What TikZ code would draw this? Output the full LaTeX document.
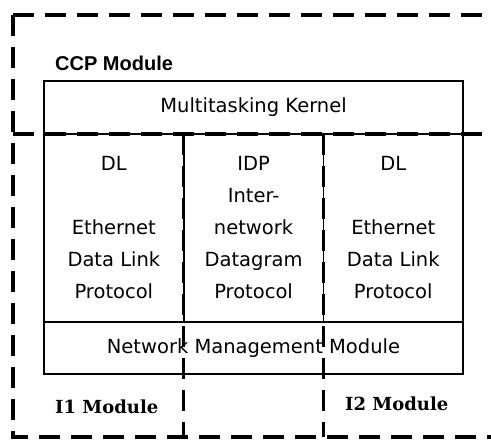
\documentclass[tikz,border=0pt]{standalone}
\usepackage{fontspec}
\setmainfont{DejaVu Sans}
\newfontfamily\titlefont{Liberation Sans}
\newfontfamily\slabfont{DejaVu Serif}
\usetikzlibrary{positioning}

\begin{document}
\begin{tikzpicture}[
    x=1pt, y=-1pt,
    font=\fontsize{19.5}{32}\selectfont,
    box/.style={rectangle, draw, line width=1.8pt, outer sep=0pt, inner sep=0pt, align=center},
    column/.style={box, minimum width=139.7pt, minimum height=188pt},
    region/.style={draw, line width=3.2pt, dash pattern=on 21pt off 11pt},
    title/.style={font=\fontsize{20}{22}\selectfont\titlefont\bfseries, anchor=west, inner sep=0pt},
    iolabel/.style={font=\fontsize{18}{20}\selectfont\slabfont\bfseries, anchor=west, inner sep=0pt},
]
    \useasboundingbox (0,0) rectangle (491,444);

    % CCP board
    \node[box, minimum width=419pt, minimum height=53pt] (kernel) at (253.5,107.5) {Multitasking Kernel};
    \node[column, below right=0pt and 0pt of kernel.south west] (dl1) {DL\\~\\Ethernet\\Data Link\\Protocol};
    \node[column, right=0pt of dl1] (idp) {IDP\\Inter-\\network\\Datagram\\Protocol};
    \node[column, right=0pt of idp] (dl2) {DL\\~\\Ethernet\\Data Link\\Protocol};
    \node[box, minimum width=419pt, minimum height=52pt, below right=0pt and 0pt of dl1.south west] (nmm) {Network Management Module};

    % module borders
    \coordinate (tl) at (13,15);
    \coordinate (tr) at (500,15);
    \coordinate (ml) at (13,134);
    \coordinate (mr) at (500,134);
    \coordinate (bl) at (13,437);
    \coordinate (br) at (500,437);
    \draw[region] (tl) -- (tr);
    \draw[region] (tl) -- (bl) -- (br);
    \draw[region] (ml) -- (mr);
    \draw[region] (dl1.north east) -- (dl1.north east |- bl);
    \draw[region] (idp.north east) -- (idp.north east |- bl);

    \node[title] (ccp) at (55,63) {CCP Module};
    \node[iolabel] (i1) at (55,407) {I1 Module};
    \node[iolabel] (i2) at (345,404) {I2 Module};
\end{tikzpicture}
\end{document}
